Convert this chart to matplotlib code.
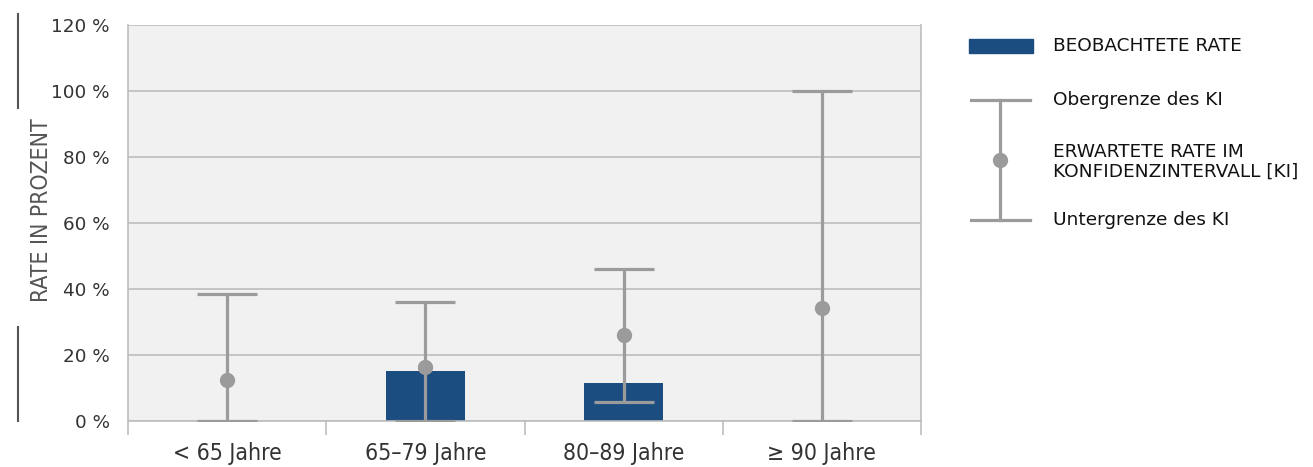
import matplotlib
matplotlib.use("Agg")
import matplotlib.pyplot as plt
from matplotlib.lines import Line2D
from matplotlib.patches import Rectangle
import numpy as np

plt.rcParams["font.family"] = ["DejaVu Sans"]

categories = ["< 65 Jahre", "65–79 Jahre", "80–89 Jahre", "≥ 90 Jahre"]
observed = [0.0, 15.2, 11.5, 0.0]
expected = [12.4, 16.4, 26.1, 34.2]
ci_low = [0.0, 0.0, 5.8, 0.0]
ci_high = [38.5, 36.1, 46.1, 100.0]
yticks = [0, 20, 40, 60, 80, 100, 120]

BAR = "#1b4d80"
GRAY = "#9b9b9b"
W, H = 1313, 467
fig = plt.figure(figsize=(W / 100, H / 100), dpi=100)
ax = fig.add_axes([128 / W, (H - 421) / H, (921 - 128) / W, (421 - 25) / H])
ax.set_facecolor("#f1f1f1")

x = np.arange(len(categories)) + 0.5
ax.bar(x, observed, width=0.40, color=BAR, zorder=2)
exp = np.array(expected)
yerr = [exp - np.array(ci_low), np.array(ci_high) - exp]
ax.errorbar(x, exp, yerr=yerr, fmt="o", color=GRAY, ecolor=GRAY, elinewidth=2.3,
            capsize=21.5, capthick=2.3, markersize=10, zorder=3)

ax.set_xlim(0, 4)
ax.set_ylim(0, 120)
ax.set_yticks(yticks)
ax.set_yticklabels([f"{v} %" for v in yticks], fontsize=13.2, color="#333333")
ax.tick_params(axis="y", length=0, pad=13)
ax.grid(axis="y", color="#bdbdbd", linewidth=1.2, zorder=0)
ax.set_axisbelow(True)

ax.set_xticks(x)
ax.set_xticklabels(categories, fontsize=16.5, color="#333333", fontstretch="condensed")
ax.tick_params(axis="x", which="major", length=0, pad=15)
ax.set_xticks(np.arange(0, 5), minor=True)
ax.tick_params(axis="x", which="minor", length=10, width=1.2, color="#bdbdbd", direction="out")

ax.spines["top"].set_visible(False)
for s in ["left", "right", "bottom"]:
    ax.spines[s].set_color("#bdbdbd")
    ax.spines[s].set_linewidth(1.2)

# y label with decorative lines
fig.text(42 / W, 1 - 210 / H, "RATE IN PROZENT", rotation=90, ha="center", va="center",
         fontsize=16.5, color="#555555", fontstretch="condensed")
fig.add_artist(Line2D([18 / W, 18 / W], [1 - 14 / H, 1 - 108 / H], color="#555555", lw=1.5))
fig.add_artist(Line2D([18 / W, 18 / W], [1 - 327 / H, 1 - 421 / H], color="#555555", lw=1.5))

# legend
fs = 13.3
fig.add_artist(Rectangle((969 / W, 1 - 53 / H), 64 / W, 14 / H, color=BAR, transform=fig.transFigure))
fig.text(1053 / W, 1 - 46 / H, "BEOBACHTETE RATE", fontsize=fs, va="center", color="#111111")
lx = 1000 / W
fig.add_artist(Line2D([lx, lx], [1 - 100 / H, 1 - 220 / H], color=GRAY, lw=2.3))
for yy in (100, 220):
    fig.add_artist(Line2D([971 / W, 1030 / W], [1 - yy / H, 1 - yy / H], color=GRAY, lw=2.3))
fig.add_artist(Line2D([lx], [1 - 160 / H], marker="o", markersize=10, color=GRAY))
fig.text(1053 / W, 1 - 100 / H, "Obergrenze des KI", fontsize=fs, va="center", color="#111111")
fig.text(1053 / W, 1 - 162 / H, "ERWARTETE RATE IM\nKONFIDENZINTERVALL [KI]", fontsize=fs,
         va="center", color="#111111", linespacing=1.15)
fig.text(1053 / W, 1 - 220 / H, "Untergrenze des KI", fontsize=fs, va="center", color="#111111")

fig.savefig("out.png", dpi=100)
